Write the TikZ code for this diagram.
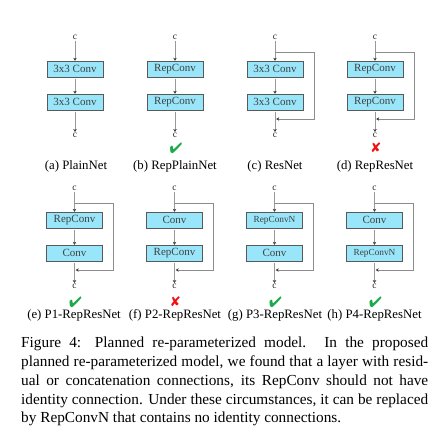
\documentclass[tikz,border=0pt]{standalone}
\usepackage{fontspec}
\setmainfont{Liberation Serif}
\usepackage{pifont}
\usetikzlibrary{arrows.meta}
\definecolor{boxfill}{HTML}{99E6FA}
\definecolor{okgreen}{HTML}{1AAA4A}
\definecolor{badred}{HTML}{F01010}
\begin{document}
\begin{tikzpicture}[x=1pt,y=1pt,
  blk/.style={draw=black!65, fill=boxfill, minimum width=56pt, minimum height=16pt,
    inner sep=0pt, text=black!75, font=\fontsize{11}{12}\selectfont},
  nblk/.style={blk, font=\fontsize{9.3}{10}\selectfont},
  lbl/.style={font=\fontsize{9.5}{10}\selectfont, text=black!85, inner sep=0.5pt},
  flow/.style={draw=black!40, line width=0.9pt, shorten <=1.5pt,
    -{Stealth[length=3pt,width=3.6pt,color=black!75]}},
  skipline/.style={draw=black!45, line width=0.7pt,
    -{Stealth[length=3pt,width=3.6pt,color=black!75]}},
  subcap/.style={font=\fontsize{12.8}{14}\selectfont, inner sep=0pt},
  ok/.style={text=okgreen, font=\fontsize{15}{15}\selectfont, inner sep=0pt},
  bad/.style={text=badred, font=\fontsize{14}{14}\selectfont, inner sep=0pt},
]
\useasboundingbox (0,0) rectangle (447,447);
% ---------- (a) ----------
\node[lbl] (ac0) at (75,410) {c};
\node[blk] (ab1) at (75,378) {3x3 Conv};
\node[blk] (ab2) at (75,345) {3x3 Conv};
\node[lbl] (ac1) at (75,312) {c};
\draw[flow] (ac0) -- (ab1);
\draw[flow] (ab1) -- (ab2);
\draw[flow] (ab2) -- (ac1);
% ---------- (b) ----------
\node[lbl] (bc0) at (175,410) {c};
\node[blk] (bb1) at (175,378) {RepConv};
\node[blk] (bb2) at (175,345) {RepConv};
\node[lbl] (bc1) at (175,312) {c};
\draw[flow] (bc0) -- (bb1);
\draw[flow] (bb1) -- (bb2);
\draw[flow] (bb2) -- (bc1);
% ---------- (c) ----------
\node[lbl] (cc0) at (275,410) {c};
\node[blk] (cb1) at (275,378) {3x3 Conv};
\node[blk] (cb2) at (275,345) {3x3 Conv};
\node[lbl] (cc1) at (275,312) {c};
\draw[flow] (cc0) -- (cb1);
\draw[flow] (cb1) -- (cb2);
\draw[flow] (cb2) -- (cc1);
\coordinate (cs) at (275,395);
\coordinate (ce) at (276.2,328);
\draw[skipline] (cs) -- (314,395) |- (ce);
% ---------- (d) ----------
\node[lbl] (dc0) at (375,410) {c};
\node[blk] (db1) at (375,378) {RepConv};
\node[blk] (db2) at (375,345) {RepConv};
\node[lbl] (dc1) at (375,312) {c};
\draw[flow] (dc0) -- (db1);
\draw[flow] (db1) -- (db2);
\draw[flow] (db2) -- (dc1);
\coordinate (ds) at (375,395);
\coordinate (de) at (376.2,328);
\draw[skipline] (ds) -- (414,395) |- (de);
% marks and captions, top row
\node[ok] (bchk) at (176,299) {\ding{52}};
\node[bad] (dchk) at (376,299) {\ding{56}};
\node[subcap] (acap) at (76,281) {(a) PlainNet};
\node[subcap] (bcap) at (175,281) {(b) RepPlainNet};
\node[subcap] (ccap) at (275,281) {(c) ResNet};
\node[subcap] (dcap) at (375,281) {(d) RepResNet};
% ---------- (e) ----------
\node[lbl] (ec0) at (74.5,259) {c};
\node[blk] (eb1) at (74.5,227) {RepConv};
\node[blk] (eb2) at (74.5,194) {Conv};
\node[lbl] (ec1) at (74.5,161) {c};
\draw[flow] (ec0) -- (eb1);
\draw[flow] (eb1) -- (eb2);
\draw[flow] (eb2) -- (ec1);
\coordinate (es) at (74.5,244);
\coordinate (ee) at (75.7,177);
\draw[skipline] (es) -- (113.5,244) |- (ee);
% ---------- (f) ----------
\node[lbl] (fc0) at (174.5,259) {c};
\node[blk] (fb1) at (174.5,227) {Conv};
\node[blk] (fb2) at (174.5,194) {RepConv};
\node[lbl] (fc1) at (174.5,161) {c};
\draw[flow] (fc0) -- (fb1);
\draw[flow] (fb1) -- (fb2);
\draw[flow] (fb2) -- (fc1);
\coordinate (fs) at (174.5,244);
\coordinate (fe) at (175.7,177);
\draw[skipline] (fs) -- (213.5,244) |- (fe);
% ---------- (g) ----------
\node[lbl] (gc0) at (274.5,259) {c};
\node[nblk] (gb1) at (274.5,227) {RepConvN};
\node[blk] (gb2) at (274.5,194) {Conv};
\node[lbl] (gc1) at (274.5,161) {c};
\draw[flow] (gc0) -- (gb1);
\draw[flow] (gb1) -- (gb2);
\draw[flow] (gb2) -- (gc1);
\coordinate (gs) at (274.5,244);
\coordinate (ge) at (275.7,177);
\draw[skipline] (gs) -- (313.5,244) |- (ge);
% ---------- (h) ----------
\node[lbl] (hc0) at (374.5,259) {c};
\node[blk] (hb1) at (374.5,227) {Conv};
\node[nblk] (hb2) at (374.5,194) {RepConvN};
\node[lbl] (hc1) at (374.5,161) {c};
\draw[flow] (hc0) -- (hb1);
\draw[flow] (hb1) -- (hb2);
\draw[flow] (hb2) -- (hc1);
\coordinate (hs) at (374.5,244);
\coordinate (he) at (375.7,177);
\draw[skipline] (hs) -- (413.5,244) |- (he);
% marks and captions, bottom row
\node[ok] (echk) at (75.5,145) {\ding{52}};
\node[bad] (fchk) at (175.5,145) {\ding{56}};
\node[ok] (gchk) at (275.5,145) {\ding{52}};
\node[ok] (hchk) at (375.5,145) {\ding{52}};
\node[subcap] (ecap) at (74,132) {(e) P1-RepResNet};
\node[subcap] (fcap) at (175,132) {(f) P2-RepResNet};
\node[subcap] (gcap) at (275,132) {(g) P3-RepResNet};
\node[subcap] (hcap) at (374.5,132) {(h) P4-RepResNet};
% ---------- caption ----------
\node[anchor=north west, inner sep=0pt, text width=407pt, align=justify,
  font=\fontsize{15.3}{18.75}\selectfont] (caption) at (21,110)
  {Figure 4: Planned re-parameterized model. In the proposed\linebreak
   planned re-parameterized model, we found that a layer with resid-\linebreak
   ual or concatenation connections, its RepConv should not have\linebreak
   identity connection. Under these circumstances, it can be replaced\linebreak
   by RepConvN that contains no identity connections.\par};
\end{tikzpicture}
\end{document}
